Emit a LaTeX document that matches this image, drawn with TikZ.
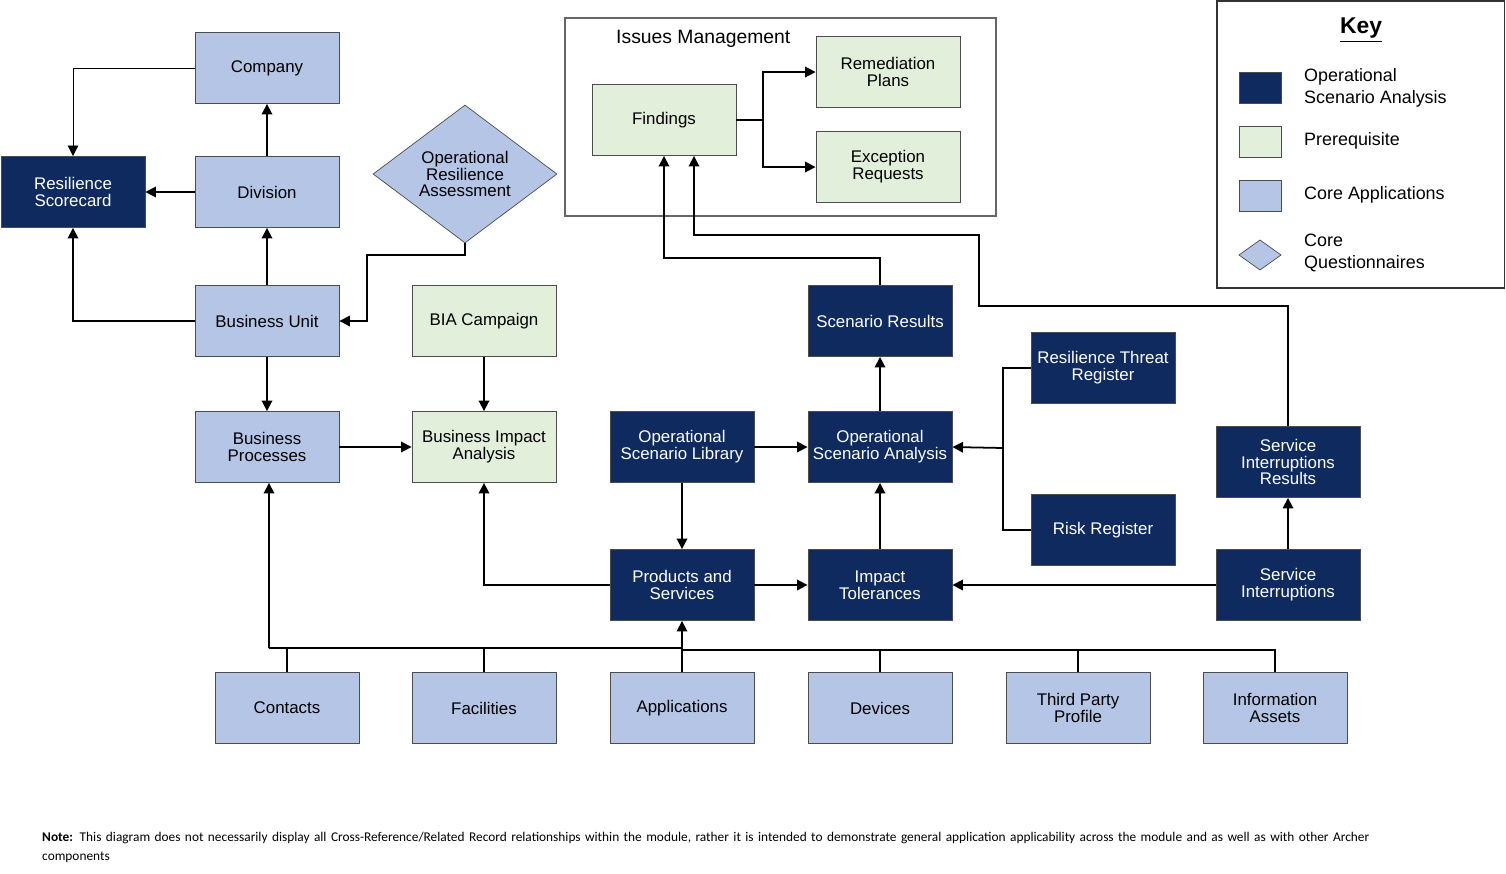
\documentclass[tikz,border=0pt]{standalone}
\usepackage{fontspec}
\setmainfont{Liberation Sans}
\newfontfamily\notefont{Carlito}
\usetikzlibrary{shapes.geometric,arrows.meta}
\definecolor{navy}{HTML}{0E2A5E}
\definecolor{lblue}{HTML}{B4C5E6}
\definecolor{lgreen}{HTML}{E2EFDA}
\begin{document}
\begin{tikzpicture}[x=0.02cm,y=-0.02cm,
  box/.style={draw=black!70,line width=0.5pt,minimum width=2.88cm,minimum height=1.42cm,inner sep=1pt,align=center,font=\fontsize{9.6}{9.6}\selectfont},
  core/.style={box,fill=lblue},
  pre/.style={box,fill=lgreen},
  osa/.style={box,fill=navy,text=white},
  ln/.style={line width=1pt},
  ar/.style={ln,-{Triangle[length=6pt,width=6pt]}}]
\useasboundingbox (0,0) rectangle (1506,873);
% Issues mgmt box
\draw[black!60,line width=0.6pt] (565,18) rectangle (996,216);
\node[font=\fontsize{11}{11}\selectfont,anchor=west] (imt) at (610,39) {Issues Management};
% Key
\draw[black!80,line width=0.6pt] (1217,1) rectangle (1504,288);
\node[font=\bfseries\fontsize{13}{13}\selectfont] (key) at (1361,30) {\underline{Key}};
\draw[black!70,fill=navy] (1239,72) rectangle (1281,103);
\draw[black!70,fill=lgreen] (1239,126) rectangle (1281,157);
\draw[black!70,fill=lblue] (1239,180) rectangle (1281,211);
\draw[black!70,fill=lblue] (1239,255) -- (1260,240) -- (1281,255) -- (1260,270) -- cycle;
\begin{scope}[every node/.style={anchor=west,align=left,font=\fontsize{10.2}{12.5}\selectfont}]
\node (k1) at (1298,88) {Operational\\Scenario Analysis};
\node (k2) at (1298,141) {Prerequisite};
\node (k3) at (1298,195) {Core Applications};
\node (k4) at (1298,253) {Core\\Questionnaires};
\end{scope}
% nodes
\node[core] (comp) at (267,68) {Company};
\node[core] (div) at (267,192) {Division};
\node[osa] (rs) at (73,192) {Resilience\\Scorecard};
\node[core] (bu) at (267,321) {Business Unit};
\node[core] (bp) at (267,447) {Business\\Processes};
\node[diamond,draw=black!70,fill=lblue,minimum width=3.68cm,minimum height=2.16cm,inner sep=0pt,align=center,font=\fontsize{9.6}{9.6}\selectfont] (ora) at (465,174) {Operational\\Resilience\\Assessment};
\node[pre] (biac) at (484,321) {BIA Campaign};
\node[pre] (bia) at (484,447) {Business Impact\\Analysis};
\node[osa] (osl) at (682,447) {Operational\\Scenario Library};
\node[osa] (ps) at (682,585) {Products and\\Services};
\node[osa] (osa) at (880,447) {Operational\\Scenario Analysis};
\node[osa] (sr) at (880,321) {Scenario Results};
\node[osa] (it) at (880,585) {Impact\\Tolerances};
\node[osa] (rtr) at (1103,368) {Resilience Threat\\Register};
\node[osa] (rr) at (1103,530) {Risk Register};
\node[osa] (sir) at (1288,462) {Service\\Interruptions\\Results};
\node[osa] (si) at (1288,585) {Service\\Interruptions};
\node[core] (con) at (287,708) {Contacts};
\node[core] (fac) at (484,708) {Facilities};
\node[core] (app) at (682,708) {Applications};
\node[core] (dev) at (880,708) {Devices};
\node[core] (tpp) at (1078,708) {Third Party\\Profile};
\node[core] (ia) at (1275,708) {Information\\Assets};
\node[pre] (fin) at (664,120) {Findings};
\node[pre] (rp) at (888,72) {Remediation\\Plans};
\node[pre] (er) at (888,167) {Exception\\Requests};
% connectors
\draw[-{Triangle[length=6pt,width=6pt]},line width=0.5pt] (comp.west) -| (rs.north);
\draw[ar] (div.west) -- (rs.east);
\draw[ar] (div) -- (comp);
\draw[ar] (bu) -- (div);
\draw[ar] (bu.west) -| (rs.south);
\draw[ar] (ora.south) -- (465,255) -- (367,255) |- (bu.east);
\draw[ar] (bu) -- (bp);
\draw[ar] (bp) -- (bia);
\draw[ar] (biac) -- (bia);
\draw[ar] (osl) -- (osa);
\draw[ar] (osl) -- (ps);
\draw[ar] (ps.west) -| (bia.south);
\draw[ar] (ps) -- (it);
\draw[ar] (it) -- (osa);
\draw[ar] (osa) -- (sr);
\draw[ar] (sr.north) -- (880,258) -| (fin.south);
\draw[ar] (sir.north) -- (1288,306) -- (979,306) -- (979,235) -| ([xshift=0.6cm]fin.south);
\coordinate (j1) at (1003,448);
\draw[ln] (rtr.west) -| (j1) |- (rr.west);
\draw[ar] (j1) -- (osa.east);
\draw[ar] (si) -- (sir);
\draw[ar] (si) -- (it);
\coordinate (j2) at (763,120);
\draw[ln] (fin.east) -- (j2);
\draw[ar] (j2) |- (rp.west);
\draw[ar] (j2) |- (er.west);
\coordinate (bl) at (269,648);
\coordinate (bm) at (682,650);
\draw[ln] (con.north) |- (bl) -- (682,648);
\draw[ln] (fac.north) -- (484,648);
\draw[ln] (app.north) -- (bm);
\draw[ln] (dev.north) |- (bm);
\draw[ln] (tpp.north) |- (bm);
\draw[ln] (ia.north) |- (bm);
\draw[ar] (bl) -- ([xshift=0.04cm]bp.south);
\draw[ar] (bm) -- (ps.south);
% note
\node[anchor=north west,align=left,text width=26.8cm,font=\notefont\fontsize{7.6}{10.6}\selectfont] (note) at (36,826) {\textbf{Note:} This diagram does not necessarily display all Cross-Reference/Related Record relationships within the module, rather it is intended to demonstrate general application applicability across the module and as well as with other Archer components};
\end{tikzpicture}
\end{document}
